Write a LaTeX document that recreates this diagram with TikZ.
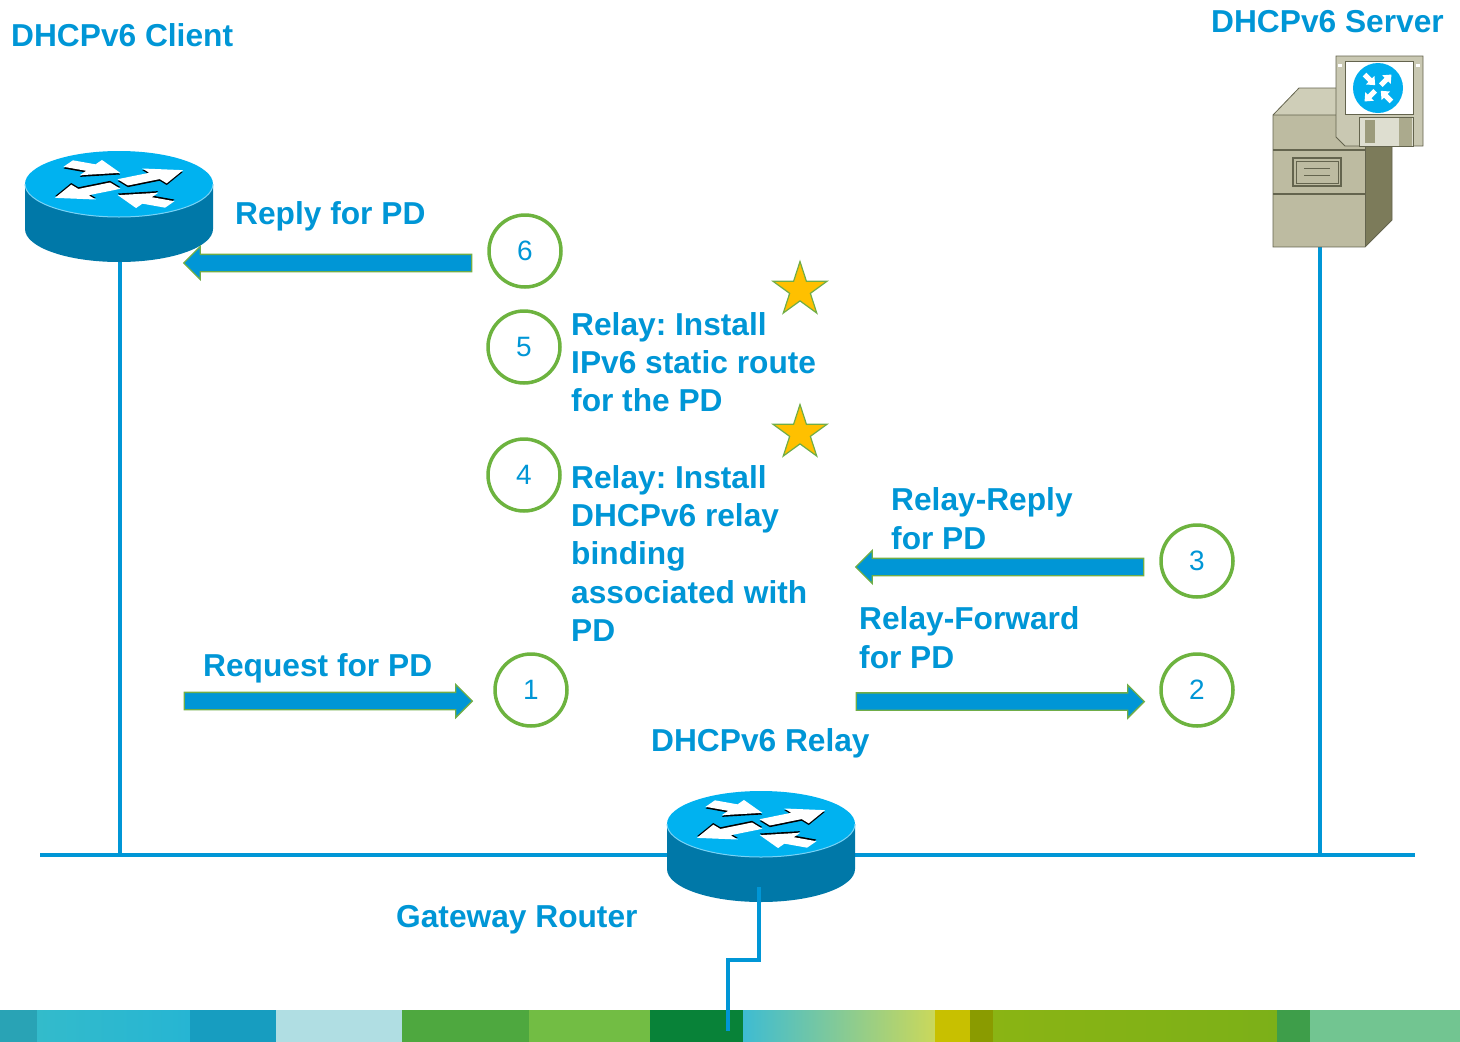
\documentclass[tikz,border=0pt]{standalone}
\usepackage{fontspec}
\setmainfont{Liberation Sans}
\usetikzlibrary{shapes.geometric,shapes.arrows}
\frenchspacing

\definecolor{ciscoblue}{RGB}{0,150,214}
\definecolor{numgreen}{RGB}{109,179,63}
\definecolor{edgegreen}{RGB}{112,173,71}
\definecolor{starfill}{RGB}{255,192,0}
\definecolor{routertop}{RGB}{0,178,240}
\definecolor{routerside}{RGB}{0,120,168}
\definecolor{routerrim}{RGB}{120,210,245}
\definecolor{srvfront}{RGB}{189,187,161}
\definecolor{srvtop}{RGB}{207,206,184}
\definecolor{srvside}{RGB}{124,123,90}
\definecolor{srvline}{RGB}{100,100,78}
\definecolor{floppy}{RGB}{201,200,178}
\definecolor{shutter}{RGB}{222,222,208}
\definecolor{shutterdark}{RGB}{156,155,124}
\definecolor{shutterstrip}{RGB}{171,170,141}
\definecolor{disc}{RGB}{0,174,239}

\tikzset{
  lbl/.style={text=ciscoblue, font=\bfseries\fontsize{31.7}{38.3}\selectfont,
    inner sep=0pt, anchor=base west, align=left},
  stepnum/.style={circle, draw=numgreen, line width=3.5pt, minimum size=72pt,
    inner sep=0pt, text=ciscoblue, font=\fontsize{28}{30}\selectfont},
  blockarrow/.style={single arrow, single arrow head extend=8pt,
    single arrow head indent=0pt, inner sep=8pt, minimum height=288pt,
    fill=ciscoblue, draw=edgegreen, line width=1.3pt},
  starmark/.style={star, star points=5, star point ratio=2.618, minimum size=57pt,
    inner sep=0pt, fill=starfill, draw=edgegreen, line width=1.2pt},
  wire/.style={draw=ciscoblue, line width=4pt},
  router/.pic={
    \fill[routerside] (-94,0) -- (-94,45)
      arc[start angle=180, end angle=0, x radius=94, y radius=33] -- (94,0) -- cycle;
    \fill[routertop] (0,0) ellipse[x radius=94, y radius=33];
    \draw[routerrim, line width=1pt] (-94,0)
      arc[start angle=180, end angle=0, x radius=94, y radius=33];
    % four arrows on the lid, laid out on a unit disc and squashed into perspective
    \begin{scope}[xscale=94, yscale=33]
      \foreach \x/\y/\a/\l/\s in {-0.54/0.62/-27/0.62/-0.05,
                                   0.04/0.05/30/0.74/-0.05,
                                   -0.04/-0.05/210/0.74/0.05,
                                   0.54/-0.62/153/0.62/0.05}{
        \begin{scope}[shift={({\x},{-(\y+\s)})}, rotate=\a]
          \fill[black] (0,-0.11) -- (\l-0.35,-0.11) -- (\l-0.35,-0.26) -- (\l,0)
            -- (\l-0.35,0.26) -- (\l-0.35,0.11) -- (0,0.11) -- cycle;
        \end{scope}
        \begin{scope}[shift={({\x},{-\y})}, rotate=\a]
          \fill[white] (0,-0.11) -- (\l-0.35,-0.11) -- (\l-0.35,-0.26) -- (\l,0)
            -- (\l-0.35,0.26) -- (\l-0.35,0.11) -- (0,0.11) -- cycle;
        \end{scope}
      }
    \end{scope}
  }
}

\begin{document}
\begin{tikzpicture}[x=1pt, y=-1pt]
\useasboundingbox (0,0) rectangle (1460,1042);

% colour band along the bottom edge
\fill[fill={rgb,255:red,41;green,163;blue,181}] (0,1010) rectangle (38,1042);
\shade[left color={rgb,255:red,51;green,187;blue,203}, right color={rgb,255:red,38;green,181;blue,211}] (37,1010) rectangle (190,1042);
\fill[fill={rgb,255:red,23;green,157;blue,192}] (190,1010) rectangle (276,1042);
\fill[fill={rgb,255:red,176;green,222;blue,227}] (276,1010) rectangle (402,1042);
\fill[fill={rgb,255:red,78;green,168;blue,63}] (402,1010) rectangle (529,1042);
\fill[fill={rgb,255:red,114;green,189;blue,68}] (529,1010) rectangle (650,1042);
\fill[fill={rgb,255:red,8;green,130;blue,56}] (650,1010) rectangle (744,1042);
\shade[left color={rgb,255:red,62;green,188;blue,210}, middle color={rgb,255:red,128;green,200;blue,144}, right color={rgb,255:red,203;green,216;blue,90}] (743,1010) rectangle (936,1042);
\fill[fill={rgb,255:red,200;green,192;blue,0}] (935,1010) rectangle (971,1042);
\fill[fill={rgb,255:red,138;green,155;blue,0}] (970,1010) rectangle (994,1042);
\shade[left color={rgb,255:red,138;green,180;blue,20}, right color={rgb,255:red,124;green,176;blue,24}] (993,1010) rectangle (1278,1042);
\fill[fill={rgb,255:red,62;green,158;blue,74}] (1277,1010) rectangle (1311,1042);
\fill[fill={rgb,255:red,114;green,197;blue,145}] (1310,1010) rectangle (1460,1042);

% network segment and drops
\coordinate (busW) at (40,855);
\coordinate (busE) at (1415,855);
\coordinate (clientDrop) at (120,262);
\coordinate (clientTap) at (120,855);
\coordinate (serverDrop) at (1320,247);
\coordinate (serverTap) at (1320,855);
\draw[wire] (busW) -- (busE);
\draw[wire] (clientDrop) -- (clientTap);
\draw[wire] (serverDrop) -- (serverTap);

% routers
\pic at (119,184) {router};
\pic at (761,824) {router};

% uplink of the gateway router
\coordinate (relayPort) at (759,887);
\coordinate (uplinkBend) at (759,960);
\coordinate (uplinkJog) at (728,960);
\coordinate (uplinkEnd) at (728,1031);
\draw[wire] (relayPort) -- (uplinkBend) -- (uplinkJog) -- (uplinkEnd);

% server tower
\fill[srvtop] (1273,115) -- (1299,88) -- (1392,88) -- (1365,115) -- cycle;
\fill[srvside] (1365,115) -- (1392,88) -- (1392,220) -- (1365,247) -- cycle;
\fill[srvfront] (1273,115) rectangle (1365,247);
\draw[srvline, line width=0.8pt] (1273,115) -- (1299,88) -- (1392,88) -- (1392,220) -- (1365,247) -- (1273,247) -- cycle;
\draw[srvline, line width=0.8pt] (1273,115) -- (1365,115) -- (1392,88);
\draw[srvline, line width=0.8pt] (1365,115) -- (1365,247);
\draw[srvline, line width=1.2pt] (1273,150) -- (1365,150);
\draw[srvline, line width=1.2pt] (1273,194) -- (1365,194);
\draw[srvline, line width=1.3pt] (1293,158) rectangle (1341,186);
\draw[srvline, line width=0.6pt] (1296,161) rectangle (1338,183);
\draw[srvline, line width=1pt] (1304,168) -- (1330,168);
\draw[srvline, line width=1pt] (1304,175) -- (1330,175);

% diskette with the router emblem
\fill[floppy] (1336,56) -- (1423,56) -- (1423,146) -- (1345,146) -- (1336,137) -- cycle;
\draw[srvline, line width=0.8pt] (1336,56) -- (1423,56) -- (1423,146) -- (1345,146) -- (1336,137) -- cycle;
\fill[white] (1345,61) rectangle (1413,114);
\draw[srvline, line width=0.6pt] (1345,61) rectangle (1413,114);
\fill[white] (1338,64) rectangle (1342,67);
\fill[white] (1416,64) rectangle (1420,67);
\fill[disc] (1378,88) circle[radius=25];
\begin{scope}[shift={(1378,88)}]
  \foreach \a in {45,225}{
    \begin{scope}[rotate=\a]
      \fill[white] (4,-2.6) -- (12,-2.6) -- (12,-6) -- (19,0) -- (12,6) -- (12,2.6) -- (4,2.6) -- cycle;
    \end{scope}
  }
  \foreach \a in {135,315}{
    \begin{scope}[rotate=\a]
      \fill[white] (19,-2.6) -- (11,-2.6) -- (11,-6) -- (4,0) -- (11,6) -- (11,2.6) -- (19,2.6) -- cycle;
    \end{scope}
  }
\end{scope}
\fill[shutter] (1359,117) rectangle (1413,146);
\draw[srvline, line width=0.5pt] (1359,117) rectangle (1413,146);
\fill[shutterdark] (1365,120) rectangle (1375,143);
\fill[shutterstrip] (1399,118) rectangle (1412,146);

% message arrows
\node[blockarrow, shape border rotate=180] (replyArrow) at (332,263) {};
\node[blockarrow, shape border rotate=180] (relayReplyArrow) at (1004,567) {};
\node[blockarrow] (relayFwdArrow) at (996,701.5) {};
\node[blockarrow] (requestArrow) at (324,701) {};

% step markers
\node[stepnum] (s6) at (525,251) {6};
\node[stepnum] (s5) at (524,347) {5};
\node[stepnum] (s4) at (524,475) {4};
\node[stepnum] (s1) at (531,690) {1};
\node[stepnum] (s3) at (1197,561) {3};
\node[stepnum] (s2) at (1197,690) {2};

\node[starmark] (starRoute) at (800,290) {};
\node[starmark] (starBinding) at (800,433) {};

% labels (multi-line labels sit on the baseline of their last line)
\node[lbl] (clientLbl) at (11,46.7) {DHCPv6 Client};
\node[lbl, anchor=base east] (serverLbl) at (1444,32) {DHCPv6 Server};
\node[lbl] (replyLbl) at (235,224) {Reply for PD};
\node[lbl] (routeLbl) at (571,411.6) {Relay: Install\\IPv6 static route\\for the PD};
\node[lbl] (bindLbl) at (571,641.5) {Relay: Install\\DHCPv6 relay\\binding\\associated with\\PD};
\node[lbl] (relayReplyLbl) at (891,549) {Relay-Reply\\for PD};
\node[lbl] (relayFwdLbl) at (859,668) {Relay-Forward\\for PD};
\node[lbl] (requestLbl) at (203,676) {Request for PD};
\node[lbl] (relayLbl) at (651,751) {DHCPv6 Relay};
\node[lbl] (gatewayLbl) at (396,927.7) {Gateway Router};
\end{tikzpicture}
\end{document}
